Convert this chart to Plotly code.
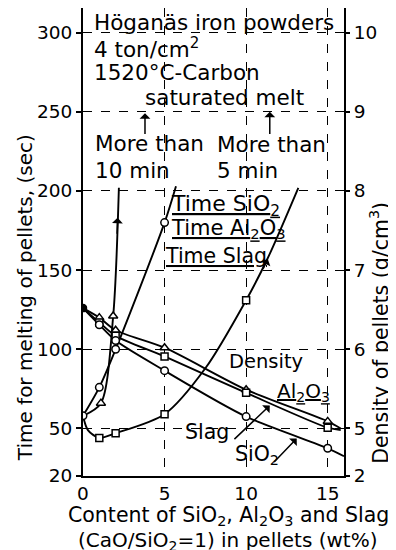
import plotly.graph_objects as go

# ---------------- data ----------------
# Time for melting of pellets (sec) vs content (wt%)
t_sio2_x = [0, 1, 2, 5]
t_sio2_y = [58, 76, 100, 180]
t_sio2_line_x = [0, 1, 2, 5, 5.7]
t_sio2_line_y = [58, 76, 100, 180, 203]

t_al_x = [1.1, 1.85]
t_al_y = [66, 121]
t_al_line_x = [0, 1.1, 1.85, 2.2]
t_al_line_y = [58, 66, 121, 202]

t_slag_x = [1, 2, 5, 10]
t_slag_y = [44, 47, 59, 131]
t_slag_line_x = [0, 0.3, 1, 2, 5, 7.5, 10, 11.3, 13.2]
t_slag_line_y = [58, 49, 44, 47, 59, 88, 131, 157, 202]

# Density of pellets (g/cm3)
d_x = [1, 2, 5, 10, 15]
d_al = [6.40, 6.24, 6.02, 5.49, 5.09]
d_slag = [6.34, 6.17, 5.91, 5.45, 5.01]
d_sio2 = [6.31, 6.11, 5.73, 5.15, 4.75]
d_start_x = [0]
d_start = [6.52]
d_al_line_x = [0, 1, 2, 5, 10, 15, 15.8]
d_al_line = [6.52, 6.40, 6.24, 6.02, 5.49, 5.09, 5.00]
d_slag_line_x = [0, 1, 2, 5, 10, 15, 15.8]
d_slag_line = [6.52, 6.34, 6.17, 5.91, 5.45, 5.01, 4.98]
d_sio2_line_x = [0, 1, 2, 5, 10, 15, 16]
d_sio2_line = [6.52, 6.31, 6.11, 5.73, 5.15, 4.75, 4.65]

x_ticks = [0, 5, 10, 15]
y_ticks = [20, 50, 100, 150, 200, 250, 300]
y2_tickvals = [4.4, 5, 6, 7, 8, 9, 10]
y2_ticktext = ["2", "5", "6", "7", "8", "9", "10"]

FONT = "DejaVu Sans"
LW = 1.9

fig = go.Figure()


def line(x, y, yaxis="y"):
    fig.add_trace(go.Scatter(x=x, y=y, mode="lines", yaxis=yaxis,
                             line=dict(color="black", width=LW, shape="spline", smoothing=0.8),
                             showlegend=False, hoverinfo="skip"))


def marks(x, y, sym, yaxis="y", fill="white", size=7.5):
    fig.add_trace(go.Scatter(x=x, y=y, mode="markers", yaxis=yaxis,
                             marker=dict(symbol=sym, size=size, color=fill,
                                         line=dict(color="black", width=1.5)),
                             showlegend=False, hoverinfo="skip"))


# time curves
line(t_sio2_line_x, t_sio2_line_y)
line(t_al_line_x, t_al_line_y)
line(t_slag_line_x, t_slag_line_y)
# density curves
line(d_al_line_x, d_al_line, "y2")
line(d_slag_line_x, d_slag_line, "y2")
line(d_sio2_line_x, d_sio2_line, "y2")

marks([0], [t_sio2_line_y[0]], "circle")
marks(t_sio2_x[1:], t_sio2_y[1:], "circle")
marks(t_al_x, t_al_y, "triangle-up", size=8)
marks(t_slag_x, t_slag_y, "square", size=7)
marks(d_x, d_al, "triangle-up", "y2", size=8)
marks(d_x, d_slag, "square", "y2", size=7)
marks(d_x, d_sio2, "circle", "y2")
marks(d_start_x, d_start, "circle", "y2", fill="black", size=7)

ann = []


def txt(x, y, s, size=21.5, xanchor="left", xref="x", yref="y", angle=0):
    ann.append(dict(x=x, y=y, xref=xref, yref=yref, text=s, showarrow=False,
                    xanchor=xanchor, yanchor="middle", textangle=angle,
                    font=dict(family=FONT, size=size, color="black")))


def arrow(hx, hy, tx, ty, head=1):
    ann.append(dict(x=hx, y=hy, ax=tx, ay=ty, xref="x", yref="y", axref="x", ayref="y",
                    text="", showarrow=True, arrowhead=head, arrowsize=1.2,
                    arrowwidth=1.5, arrowcolor="black"))


txt(0.55, 306.5, "Höganäs iron powders")
txt(0.55, 290, "4 ton/cm<sup>2</sup>")
txt(0.55, 275, "1520°C-Carbon")
txt(3.67, 259, "saturated melt")
txt(0.61, 230, "More than")
txt(0.61, 213, "10 min")
txt(8.08, 229, "More than")
txt(8.08, 213, "5 min")
txt(5.3, 191, "<u>Time SiO<sub>2</sub></u>", size=22)
txt(5.3, 176, "<u>Time Al<sub>2</sub>O<sub>3</sub></u>", size=21)
txt(4.9, 159, "<u>Time Slag</u>", size=20.5)
txt(8.8, 92, "Density", size=19.5)
txt(11.76, 73, "<u>Al<sub>2</sub>O<sub>3</sub></u>", size=20)
txt(6.12, 47.5, "Slag", size=20.5)
txt(9.19, 33, "SiO<sub>2</sub>", size=20.5)

arrow(3.8, 249, 3.8, 235)
arrow(11.45, 250, 11.45, 235)
arrow(2.12, 183, 2.09, 172)
arrow(11.33, 157, 11.0, 150)
arrow(11.45, 64.5, 9.19, 42.4)
arrow(13.1, 43.7, 11.63, 27.9)

# axis titles
txt(-0.222, 0.380, "Time for melting of pellets, (sec)", size=20, xanchor="center",
    xref="paper", yref="paper", angle=-90)
txt(1.138, 0.306, "Density of pellets (g/cm<sup>3</sup>)", size=20.5, xanchor="center",
    xref="paper", yref="paper", angle=-90)
txt(0.556, -0.085, "Content of SiO<sub>2</sub>, Al<sub>2</sub>O<sub>3</sub> and Slag",
    size=20.5, xanchor="center", xref="paper", yref="paper")
txt(0.556, -0.1395, "(CaO/SiO<sub>2</sub>=1) in pellets (wt%)",
    size=20, xanchor="center", xref="paper", yref="paper")

fig.update_layout(
    width=388, height=542,
    margin=dict(l=75, r=52, t=0, b=74),
    paper_bgcolor="white", plot_bgcolor="white",
    font=dict(family=FONT, size=18, color="black"),
    annotations=ann,
    xaxis=dict(range=[0, 16], tickvals=x_ticks, showgrid=True, griddash="dash",
               gridcolor="black", gridwidth=1, showline=True, linecolor="black",
               linewidth=2, ticks="", zeroline=False,
               tickfont=dict(family=FONT, size=18.5)),
    yaxis=dict(range=[20, 315.5], tickvals=y_ticks, showgrid=True, griddash="dash",
               gridcolor="black", gridwidth=1, showline=True, linecolor="black",
               linewidth=2, ticks="outside", ticklen=5, tickwidth=1.5,
               tickcolor="black", zeroline=False,
               tickfont=dict(family=FONT, size=18.5)),
    yaxis2=dict(range=[4.4, 10.31], overlaying="y", side="right",
                tickvals=y2_tickvals, ticktext=y2_ticktext, showgrid=False,
                showline=True, linecolor="black", linewidth=2, ticks="outside",
                ticklen=4, tickwidth=1.5, tickcolor="black", zeroline=False,
                tickfont=dict(family=FONT, size=18.5)),
)

fig.write_html("out.html")
